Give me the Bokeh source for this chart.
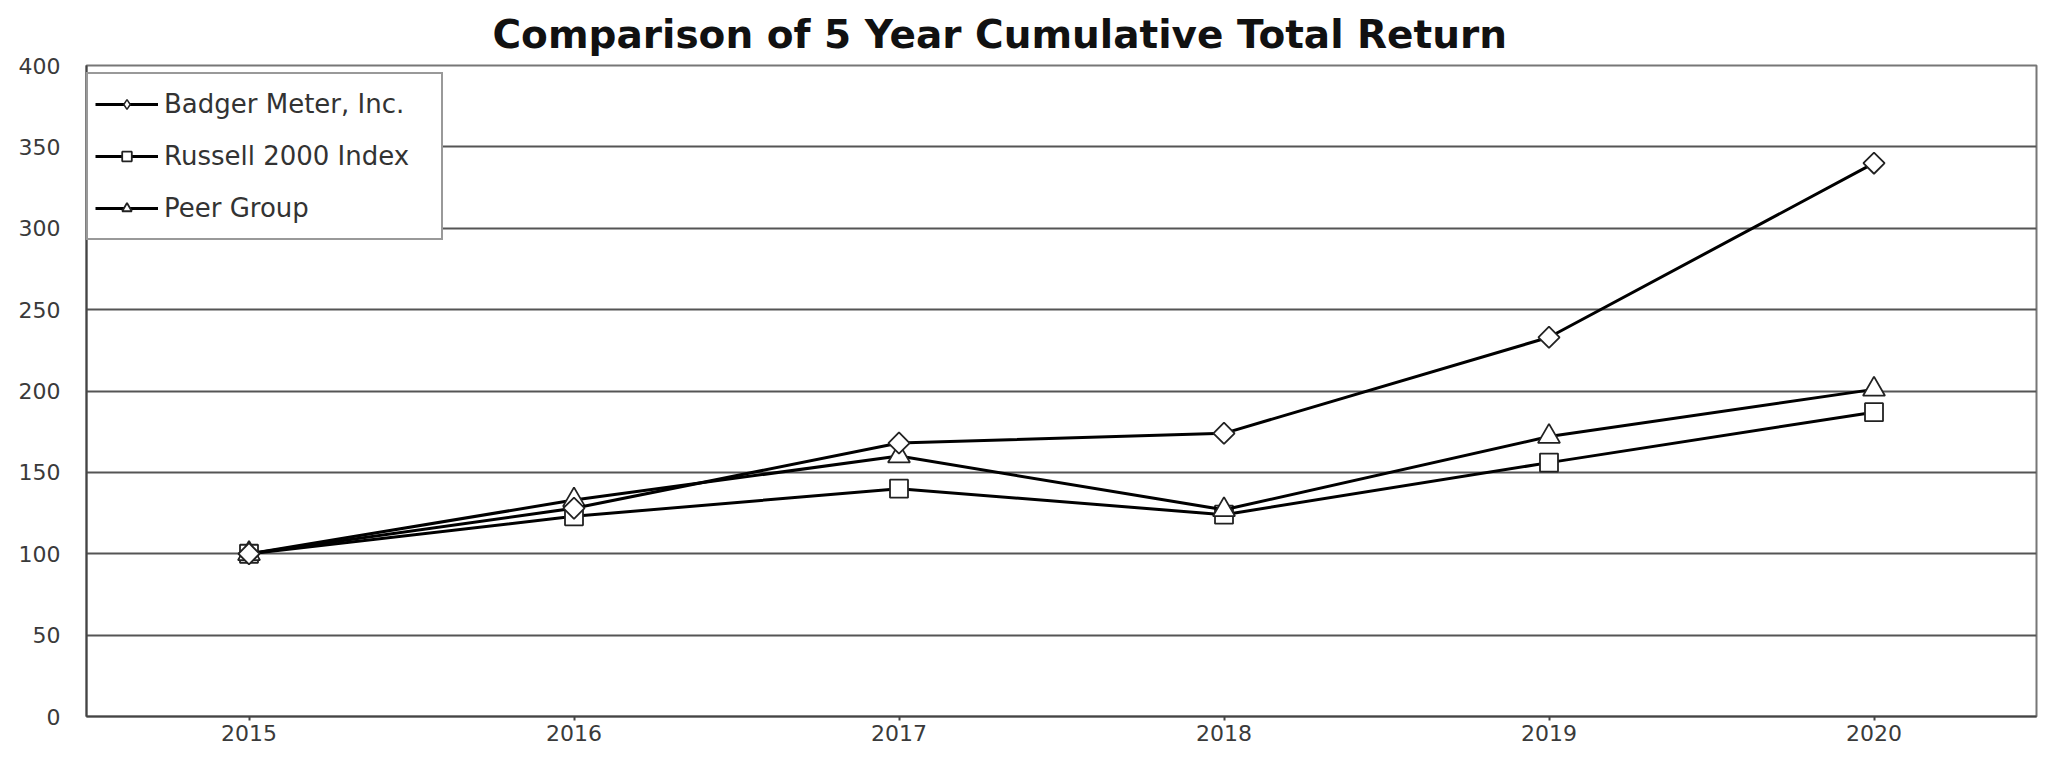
from bokeh.plotting import figure
from bokeh.models import (FixedTicker, Range1d, Legend, LegendItem, Title)
from bokeh.embed import file_html
from bokeh.resources import INLINE
import numpy as np

years = [2015, 2016, 2017, 2018, 2019, 2020]
badger = [100, 128, 168, 174, 233, 340]
russell = [100, 123, 140, 124, 156, 187]
peer = [100, 133, 160, 127, 172, 201]
names = ["Badger Meter, Inc.", "Russell 2000 Index", "Peer Group"]
y_ticks = [0, 50, 100, 150, 200, 250, 300, 350, 400]
title_text = "Comparison of 5 Year Cumulative Total Return"

FONT = "DejaVu Sans"

p = figure(width=2048, height=760, output_backend="svg", toolbar_location=None,
           x_range=Range1d(2014.5, 2020.5), y_range=Range1d(0, 400),
           min_border_left=86, min_border_right=12, min_border_top=65, min_border_bottom=44)
p.background_fill_color = "white"
p.border_fill_color = "white"
p.outline_line_color = "#777777"
p.outline_line_width = 2

p.title = Title(text=title_text, align="left", offset=406, standoff=17,
                text_font=FONT, text_font_style="bold", text_font_size="39px",
                text_color="#111111")

p.xgrid.visible = False
p.ygrid.ticker = FixedTicker(ticks=y_ticks)
p.ygrid.grid_line_color = "#555555"
p.ygrid.grid_line_width = 2

p.xaxis.ticker = FixedTicker(ticks=years)
p.yaxis.ticker = FixedTicker(ticks=y_ticks)
for ax in (p.xaxis, p.yaxis):
    ax.axis_line_color = "#444444"
    ax.axis_line_width = 2
    ax.major_label_text_font = FONT
    ax.major_label_text_font_size = "22px"
    ax.major_label_text_color = "#3a3a3a"
    ax.minor_tick_line_color = None
    ax.major_tick_in = 0
p.yaxis.major_tick_out = 0
p.yaxis.major_label_standoff = 26
p.xaxis.major_tick_out = 4
p.xaxis.major_tick_line_color = "#444444"
p.xaxis.major_tick_line_width = 2
p.xaxis.major_label_standoff = 4

series = {}
for name, vals, marker, size, ang in [
        (names[1], russell, "square", 18, 0.0),
        (names[2], peer, "triangle", 22, 0.0),
        (names[0], badger, "square", 15, np.pi / 4)]:
    ln = p.line(years, vals, line_color="black", line_width=3)
    if name == names[0]:
        # small diamond (hidden under the rotated square) that gives the legend key
        dm = p.scatter(years, vals, marker="diamond", size=14,
                       fill_color="white", line_color="#222222", line_width=1.5)
    sc = p.scatter(years, vals, marker=marker, size=size, angle=ang,
                   fill_color="white", line_color="#222222", line_width=1.8)
    series[name] = [ln, sc] if name != names[0] else [ln, dm]

legend = Legend(items=[LegendItem(label=n, renderers=series[n]) for n in names],
                location=(0, 476), orientation="vertical",
                padding=7, spacing=6, margin=0,
                glyph_width=63, glyph_height=24, label_standoff=6,
                label_width=270, label_height=46,
                label_text_font=FONT, label_text_font_size="26px",
                label_text_color="#333333",
                border_line_color="#333333", border_line_width=2,
                background_fill_color="white", background_fill_alpha=1.0)
p.add_layout(legend, "center")

open("out.html", "w").write(file_html(p, INLINE))
